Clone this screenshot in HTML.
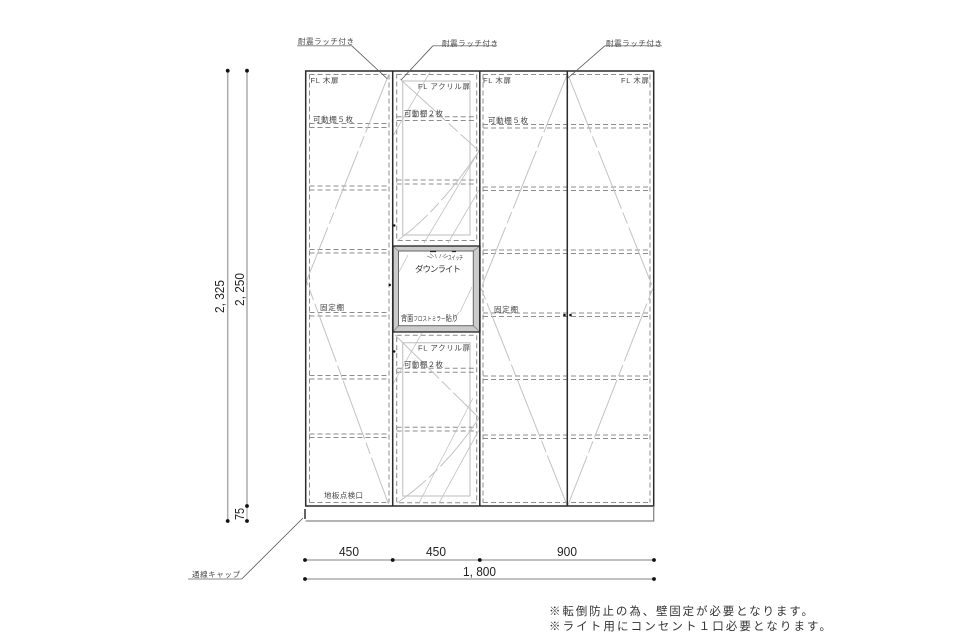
<!DOCTYPE html>
<html lang="ja">
<head>
<meta charset="utf-8">
<title>Cabinet elevation</title>
<style>
html,body{margin:0;padding:0;background:#fff;}
svg{display:block;}
text{font-family:"Liberation Sans","Noto Sans CJK JP",sans-serif;fill:#333;}
.s{font-size:7.5px;fill:#444;}
.d{font-size:13px;fill:#222;}
.n{font-size:11.5px;fill:#333;}
.dash{fill:none;stroke:#8c8c8c;stroke-width:1;stroke-dasharray:5 3;}
.dd{fill:none;stroke:#c2c2c2;stroke-width:1;stroke-dasharray:62 4 12 4;}
.thin{fill:none;stroke:#c2c2c2;stroke-width:.8;}
.b{fill:none;stroke:#2a2a2a;stroke-width:1.5;}
.dim{stroke:#ababab;stroke-width:1.5;fill:none;}
.lead{fill:none;stroke:#555;stroke-width:.8;}
.ul{fill:none;stroke:#888;stroke-width:1;}
.dot{fill:#111;}
</style>
</head>
<body>
<svg width="960" height="640" viewBox="0 0 960 640" xmlns="http://www.w3.org/2000/svg">
<rect width="960" height="640" fill="#fff"/>

<!-- door dashed outlines -->
<path class="dash" d="M309.5 74.5H389M309.5 502.5H389M309.5 74.5V502.5M389 74.5V502.5"/>
<path class="dash" d="M483 74.5H650M483 502.5H650M483 74.5V502.5M650 74.5V502.5"/>

<!-- shelves: left door -->
<path class="dash" d="M309.5 123.5H389M309.5 127.5H389M309.5 186H389M309.5 190H389M309.5 249.5H389M309.5 253H389M309.5 312.5H389M309.5 316H389M309.5 375.5H389M309.5 379H389M309.5 434H389M309.5 437.5H389"/>
<!-- shelves: right doors -->
<path class="dash" d="M483 124.500H650M483 128H650M483 187H650M483 190.500H650M483 250H650M483 253.500H650M483 313H650M483 316.500H650M483 376H650M483 379.500H650M483 435H650M483 438.500H650"/>

<!-- diamond swing lines -->
<path class="dd" d="M388.500 75L306.500 281L388.500 504"/>
<path class="dd" d="M567 75L481 288L567 505"/>
<path class="dd" d="M568 75L653 288L568 505"/>

<!-- centre upper door -->
<rect x="402.700" y="81" width="67.300" height="154" fill="none" stroke="#cccccc" stroke-width="1.300"/>
<rect x="396.700" y="74.500" width="80" height="166" class="dash"/>
<path class="dash" d="M396.700 116.700H476.700M396.700 120.500H476.700M396.700 180H476.700M396.700 184H476.700"/>
<path class="dd" d="M400 79L479 151"/>
<path class="dd" d="M479 151Q440 210 397 241"/>
<path class="thin" d="M393.500 135L430 72M479 151L424 243M479 190L448 243"/>

<!-- centre lower door -->
<rect x="402.700" y="342.700" width="67.300" height="153.300" fill="none" stroke="#cccccc" stroke-width="1.300"/>
<rect x="396.700" y="335.300" width="80" height="167.400" class="dash"/>
<path class="dash" d="M396.700 368.300H476.700M396.700 372.300H476.700M396.700 427.300H476.700M396.700 431H476.700"/>
<path class="dd" d="M395 335L479 418"/>
<path class="dd" d="M479 418Q445 470 397 503"/>
<path class="thin" d="M393.500 383L422 333M419 503L473 398M439 503L479 430"/>

<!-- mirror niche -->
<rect x="393" y="246" width="87" height="86" fill="#fff"/>
<path d="M393 246H480V332H393ZM398.500 251V325.700H473.300V251Z" fill="#cbcbcb" fill-rule="evenodd"/>
<path d="M393 246L398.500 251M480 246L473.300 251M393 332L398.500 325.700M480 332L473.300 325.700" stroke="#888" stroke-width=".8" fill="none"/>
<rect x="398.500" y="251" width="74.800" height="74.700" fill="#fff" stroke="#666" stroke-width="1"/>
<rect x="393" y="246" width="87" height="86" fill="none" stroke="#222" stroke-width="1.300"/>
<path class="thin" d="M399 272L408 255M460 312L472 287M452 322L459 312"/>
<!-- downlight -->
<path d="M430 251.500H436M452 251.500H456" stroke="#222" stroke-width="1.200"/>
<path d="M427 256L432 258M430 253.500L434 257M435 254L436.500 258M441 254L439.500 258M446 254L442.500 257M444 258L448 256" stroke="#888" stroke-width=".7" fill="none"/>

<!-- main frame -->
<path class="b" d="M305.700 71H653.700V506H305.700Z"/>
<path class="b" d="M392.700 71V506M479.800 71V506M567.300 71V506"/>
<path d="M305.700 521H653.700V506" fill="none" stroke="#888" stroke-width="1.300"/>
<path d="M305 509V519" stroke="#111" stroke-width="1.300"/>

<!-- knobs -->
<circle class="dot" cx="394.300" cy="225.500" r="1.200"/>
<circle class="dot" cx="389.800" cy="285" r="1.200"/>
<circle class="dot" cx="394.300" cy="351.500" r="1.200"/>
<circle class="dot" cx="564.500" cy="315" r="1.300"/>
<circle class="dot" cx="570.500" cy="315" r="1.300"/>

<!-- leaders -->
<path class="ul" d="M297 45.700H351.700M433 45.700H497M605 45.700H662M188 579H241.700"/>
<path class="lead" d="M351.700 45.700L387.500 79M433 45.700L401 80M605 45.700L568 78M241.700 579L303 518"/>
<text class="s" x="298" y="44" textLength="56" lengthAdjust="spacing">耐震ラッチ付き</text>
<text class="s" x="442" y="46" textLength="56" lengthAdjust="spacing">耐震ラッチ付き</text>
<text class="s" x="606" y="46" textLength="56" lengthAdjust="spacing">耐震ラッチ付き</text>
<text class="s" x="192" y="577" textLength="48" lengthAdjust="spacing">通線キャップ</text>

<!-- labels -->
<text class="s" x="310.500" y="83" textLength="28" lengthAdjust="spacing">FL 木扉</text>
<text class="s" x="483" y="83" textLength="28" lengthAdjust="spacing">FL 木扉</text>
<text class="s" x="621" y="83" textLength="28" lengthAdjust="spacing">FL 木扉</text>
<text class="s" x="418" y="89" textLength="52" lengthAdjust="spacing">FL アクリル扉</text>
<text class="s" x="418" y="350.500" textLength="52" lengthAdjust="spacing">FL アクリル扉</text>
<text class="s" x="404" y="116" textLength="39" lengthAdjust="spacing">可動棚２枚</text>
<text class="s" x="404" y="367" textLength="39" lengthAdjust="spacing">可動棚２枚</text>
<text class="s" x="313" y="122" textLength="40" lengthAdjust="spacing">可動棚５枚</text>
<text class="s" x="488" y="123" textLength="40" lengthAdjust="spacing">可動棚５枚</text>
<text class="s" x="320" y="310" textLength="24" lengthAdjust="spacing">固定棚</text>
<text class="s" x="494" y="312" textLength="24" lengthAdjust="spacing">固定棚</text>
<text class="s" x="324" y="498" textLength="39" lengthAdjust="spacing">地板点検口</text>
<text x="415" y="272" font-size="8.500" fill="#333" textLength="46" lengthAdjust="spacing">ダウンライト</text>
<text x="401" y="321" font-size="8" fill="#333" textLength="57" lengthAdjust="spacingAndGlyphs">背面<tspan font-size="6">フロストミラー</tspan>貼り</text>
<text x="448" y="260" font-size="6" fill="#333" textLength="15" lengthAdjust="spacingAndGlyphs">スイッチ</text>

<!-- vertical dims -->
<path class="dim" d="M227.700 71V521M247 71V506"/>
<path d="M247 506V521" stroke="#888" stroke-width=".8"/>
<circle class="dot" cx="227.700" cy="70.700" r="1.900"/>
<circle class="dot" cx="227.700" cy="521" r="1.900"/>
<circle class="dot" cx="247" cy="70.700" r="1.900"/>
<circle class="dot" cx="247" cy="506" r="1.900"/>
<circle class="dot" cx="247" cy="521" r="1.900"/>
<text class="d" transform="translate(224,313) rotate(-90)" textLength="33" lengthAdjust="spacingAndGlyphs">2, 325</text>
<text class="d" transform="translate(244,306) rotate(-90)" textLength="33" lengthAdjust="spacingAndGlyphs">2, 250</text>
<text class="d" transform="translate(244,520) rotate(-90)" textLength="12" lengthAdjust="spacingAndGlyphs">75</text>

<!-- horizontal dims -->
<path class="dim" d="M305 560H654M305 579H654"/>
<circle class="dot" cx="305" cy="560" r="1.900"/>
<circle class="dot" cx="392.700" cy="560" r="1.900"/>
<circle class="dot" cx="479.800" cy="560" r="1.900"/>
<circle class="dot" cx="654" cy="560" r="1.900"/>
<circle class="dot" cx="305" cy="579" r="1.900"/>
<circle class="dot" cx="654" cy="579" r="1.900"/>
<text class="d" x="339" y="556" textLength="20" lengthAdjust="spacingAndGlyphs">450</text>
<text class="d" x="426" y="556" textLength="20" lengthAdjust="spacingAndGlyphs">450</text>
<text class="d" x="557" y="556" textLength="20" lengthAdjust="spacingAndGlyphs">900</text>
<text class="d" x="463" y="576" textLength="33" lengthAdjust="spacingAndGlyphs">1, 800</text>

<!-- notes -->
<text class="n" x="549" y="615" textLength="264" lengthAdjust="spacing">※転倒防止の為、壁固定が必要となります。</text>
<text class="n" x="549" y="630" textLength="282" lengthAdjust="spacing">※ライト用にコンセント１口必要となります。</text>
</svg>
</body>
</html>
